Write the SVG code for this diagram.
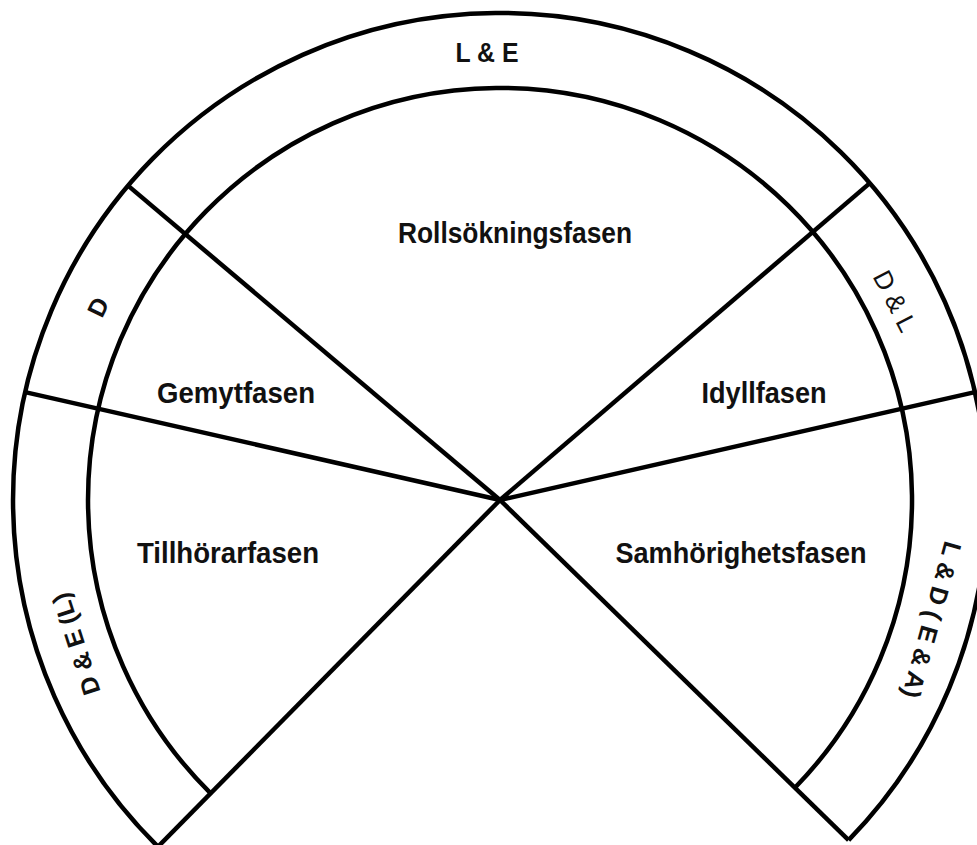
<svg xmlns="http://www.w3.org/2000/svg" width="977" height="845" viewBox="0 0 977 845">
<style>
.ln{fill:none;stroke:#000;stroke-width:4.5;stroke-linecap:butt}
.t{font-family:"Liberation Sans",Arial,sans-serif;font-weight:bold;fill:#111;text-anchor:middle}
.r{font-family:"Liberation Sans",Arial,sans-serif;fill:#111;text-anchor:middle}
</style>
<rect width="977" height="845" fill="#fff"/>
<g id="rings">
<path class="ln" d="M158.0 846.7 A487 487 0 1 1 848.6 840.1"/>
<path class="ln" d="M210.7 793.3 A412 412 0 1 1 794.9 787.7"/>
</g>
<g id="connectors">
<line class="ln" x1="500" y1="500" x2="128.0" y2="185.6"/>
<line class="ln" x1="500" y1="500" x2="25.1" y2="392.1"/>
<line class="ln" x1="500" y1="500" x2="974.9" y2="392.1"/>
<line class="ln" x1="500" y1="500" x2="869.8" y2="183.1"/>
<line class="ln" x1="500" y1="500" x2="848.6" y2="840.1"/>
<line class="ln" x1="500" y1="500" x2="158.0" y2="846.7"/>
</g>
<g id="rollsokningsfasen"><text class="t" x="515" y="243" font-size="29.5" textLength="234" lengthAdjust="spacingAndGlyphs">Rollsökningsfasen</text></g>
<g id="gemytfasen"><text class="t" x="236" y="403" font-size="29.5" textLength="158" lengthAdjust="spacingAndGlyphs">Gemytfasen</text></g>
<g id="idyllfasen"><text class="t" x="764" y="403" font-size="29.5" textLength="125" lengthAdjust="spacingAndGlyphs">Idyllfasen</text></g>
<g id="tillhorarfasen"><text class="t" x="228" y="563" font-size="29.5" textLength="182" lengthAdjust="spacingAndGlyphs">Tillhörarfasen</text></g>
<g id="samhorighetsfasen"><text class="t" x="741" y="563" font-size="29.5" textLength="251" lengthAdjust="spacingAndGlyphs">Samhörighetsfasen</text></g>
<g id="ring-le"><text class="t" x="487" y="62" font-size="27" textLength="63" lengthAdjust="spacingAndGlyphs">L &amp; E</text></g>
<g id="ring-d"><text class="t" x="98" y="307" dy="0.35em" font-size="25" transform="rotate(-64 98 307)">D</text></g>
<g id="ring-del"><text class="t" x="76" y="644" dy="0.35em" font-size="25" transform="rotate(-108 76 644)">D &amp; E (L)</text></g>
<g id="ring-dl"><text class="r" x="895" y="301" dy="0.35em" font-size="26" transform="rotate(63 895 301)">D &amp; L</text></g>
<g id="ring-ld"><text class="t" x="932" y="620" dy="0.35em" font-size="25" transform="rotate(105.5 932 620)">L &amp; D ( E &amp; A)</text></g>
</svg>
